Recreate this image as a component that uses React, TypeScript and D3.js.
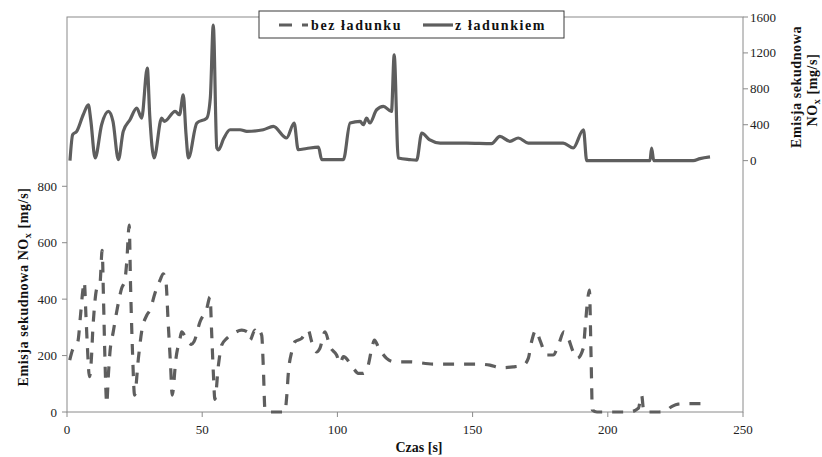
import * as d3 from "d3"

// bez ładunku (left axis)
const timeBez = [
  1, 2, 4, 5, 5.8, 6.4, 7, 7.5, 8.3, 9.1, 9.5, 10.1, 11, 12.2, 13, 13.5, 14, 14.7, 15.3, 15.9,
  17.1, 18.6, 20.2, 21.4, 22.1, 23, 23.5, 24.2, 25, 26.4, 27.6, 29.5, 30.7, 32.5, 34.4, 35.6,
  36.6, 37.4, 38.3, 38.9, 40.3, 41.8, 42.4, 44, 46, 47, 49.2, 51.7, 52.9, 53.5, 54.1, 54.7, 56,
  57.2, 59, 61.5, 64.6, 67, 67.7, 69.5, 70.2, 70.8, 72, 72.6, 73.2, 74, 80.6, 81.2, 81.9, 83.1,
  84.3, 86.8, 89.2, 90.5, 92.3, 93.5, 95.4, 97.3, 99.7, 101, 102.2, 105.9, 107.7, 109.5, 111.4,
  112.7, 113.7, 115.1, 118.2, 121, 126.8, 135.5, 151.5, 156.4, 160.1, 165, 168.7, 170.6, 171.8,
  173.4, 174.9, 177.4, 179.8, 181.7, 183.8, 185.4, 187.2, 188.7, 190.9, 191.8, 192.6, 193.2,
  193.8, 194.3, 196, 208, 211.3, 212.5, 213.3, 214, 219, 221, 223.6, 226, 231.6, 235.3,
]
const bezLadunku = [
  184, 219, 249, 343, 426, 461, 343, 240, 125, 202, 284, 367, 438, 456, 573, 400, 200, 30, 131, 213,
  284, 367, 438, 467, 532, 662, 450, 220, 60, 190, 284, 343, 361, 420, 467, 490,
  461, 320, 166, 60, 190, 261, 284, 262, 240, 250, 320, 367, 408, 280, 143, 45, 166,
  237, 260, 278, 290, 282, 255, 290, 280, 290, 272, 160, 10, 0, 0, 48, 143, 213,
  249, 261, 290, 249, 213, 225, 284, 231, 202, 172, 196, 155, 137, 137, 166,
  225, 255, 231, 190, 178, 178, 170, 170, 166, 157, 160, 166, 190, 249,
  290, 255, 202, 202, 237, 284, 261, 213, 190, 225, 320, 402, 432,
  202, 7, 0, 0, 13, 60, 3, 0, 0, 2, 19, 28, 30, 30,
]

// z ładunkiem (right axis)
const timeZ = [
  1.1, 2.1, 3.6, 6, 7.9, 8.8, 10.4, 12.8, 15.3, 17, 19, 20.8, 23.3, 25.8, 27.6, 29.7, 30.6, 32.2,
  35, 36, 40, 41.6, 43, 44, 44.9, 48, 51.7, 53, 54.1, 55.4, 56, 58, 60.3, 64, 66.5, 72.6, 76.3,
  81.2, 84, 85.5, 88.6, 93, 94.2, 102.2, 104.7, 108.4, 109.6, 110.8, 112, 114.5, 117, 120, 121,
  122.5, 126.8, 129.3, 131.2, 134, 138, 147.8, 157, 160.1, 163.8, 166.9, 170.6, 183.5, 187.2,
  191, 192.2, 215.6, 216.2, 217, 231.6, 234.1, 237.8,
]
const zLadunkiem = [
  0, 290, 326, 511, 622, 450, 30, 400, 548, 437, 11, 326, 456, 585, 474, 1030, 500, 30,
  474, 437, 548, 511, 733, 300, 30, 419, 474, 696, 1511, 141, 120, 250, 344, 344, 326, 344, 381,
  252, 419, 122, 135, 150, 11, 11, 419, 437, 400, 474, 419, 567, 604, 548, 1178,
  30, 11, 5, 308, 233, 196, 196, 190, 270, 215, 252, 196, 196, 141,
  344, 0, 0, 141, 0, 0, 22, 41,
]

const xTicks = [0, 50, 100, 150, 200, 250]
const leftTicks = [0, 200, 400, 600, 800]
const rightTicks = [0, 400, 800, 1200, 1600]

const W = 822
const H = 457
const left = 67
const right = 743
const top = 17
const bottom = 412
const lineColor = "#5e5e5e"
const axisColor = "#8a8a8a"
const serif = "Liberation Serif, Times New Roman, Times, serif"

export default function App() {
  const x = d3.scaleLinear().domain([0, 250]).range([left, right])
  const yL = d3.scaleLinear().domain([0, 1400]).range([bottom, top])
  const yR = d3.scaleLinear().domain([-2800, 1600]).range([bottom, top])

  const lineBez = d3
    .line<number>()
    .x((d, i) => x(timeBez[i]))
    .y((d) => yL(d))
    .curve(d3.curveMonotoneX)
  const lineZ = d3
    .line<number>()
    .x((d, i) => x(timeZ[i]))
    .y((d) => yR(d))
    .curve(d3.curveMonotoneX)

  const titleStyle = { fontFamily: serif, fontSize: 14, fontWeight: 700 } as const

  return (
    <svg
      width={W}
      height={H}
      style={{ position: "absolute", left: 0, top: 0, background: "#fff", fontFamily: serif }}
    >
      {/* frame */}
      <rect x={left} y={top} width={right - left} height={bottom - top} fill="none" stroke={axisColor} strokeWidth={1} />

      {/* x axis */}
      {xTicks.map((t) => (
        <g key={"x" + t}>
          <line x1={x(t)} x2={x(t)} y1={bottom} y2={bottom + 5} stroke={axisColor} />
          <text x={x(t)} y={bottom + 22} textAnchor="middle" style={{ fontFamily: serif, fontSize: 13 }} fill="#222">
            {t}
          </text>
        </g>
      ))}

      {/* left axis */}
      {leftTicks.map((t) => (
        <g key={"l" + t}>
          <line x1={left - 5} x2={left} y1={yL(t)} y2={yL(t)} stroke={axisColor} />
          <text x={left - 10} y={yL(t) + 4.5} textAnchor="end" style={{ fontFamily: serif, fontSize: 13 }} fill="#222">
            {t}
          </text>
        </g>
      ))}

      {/* right axis */}
      {rightTicks.map((t) => (
        <g key={"r" + t}>
          <line x1={right} x2={right + 5} y1={yR(t)} y2={yR(t)} stroke={axisColor} />
          <text x={right + 7} y={yR(t) + 4.5} textAnchor="start" style={{ fontFamily: serif, fontSize: 13 }} fill="#222">
            {t}
          </text>
        </g>
      ))}

      {/* series */}
      <path d={lineZ(zLadunkiem) || ""} fill="none" stroke={lineColor} strokeWidth={3.2} strokeLinejoin="round" />
      <path
        d={lineBez(bezLadunku) || ""}
        fill="none"
        stroke={lineColor}
        strokeWidth={3.2}
        strokeDasharray="11,10"
        strokeLinejoin="round"
      />

      {/* axis titles */}
      <text x={419} y={452} textAnchor="middle" style={titleStyle} fill="#111">
        Czas [s]
      </text>
      <text transform="translate(28,287) rotate(-90)" textAnchor="middle" style={{ ...titleStyle, letterSpacing: 0.6 }} fill="#111">
        Emisja sekudnowa NO<tspan style={{ fontSize: 10 }} dy={3}>x</tspan>
        <tspan dy={-3}> [mg/s]</tspan>
      </text>
      <text transform="translate(801,87) rotate(-90)" textAnchor="middle" style={{ ...titleStyle, letterSpacing: 0.6 }} fill="#111">
        Emisja sekudnowa
      </text>
      <text transform="translate(817,90) rotate(-90)" textAnchor="middle" style={{ ...titleStyle, letterSpacing: 0.6 }} fill="#111">
        NO<tspan style={{ fontSize: 10 }} dy={3}>x</tspan>
        <tspan dy={-3}> [mg/s]</tspan>
      </text>

      {/* legend */}
      <rect x={259} y={11} width={305} height={27} fill="#fff" stroke="#3a3a3a" strokeWidth={1} />
      <line x1={279} x2={308} y1={25} y2={25} stroke={lineColor} strokeWidth={3.2} strokeDasharray="13,10" />
      <text x={311} y={30} style={{ ...titleStyle, letterSpacing: 1.6 }} fill="#111">
        bez ładunku
      </text>
      <line x1={423} x2={453} y1={25} y2={25} stroke={lineColor} strokeWidth={3.2} />
      <text x={455} y={30} style={{ ...titleStyle, letterSpacing: 1.6 }} fill="#111">
        z ładunkiem
      </text>
    </svg>
  )
}
